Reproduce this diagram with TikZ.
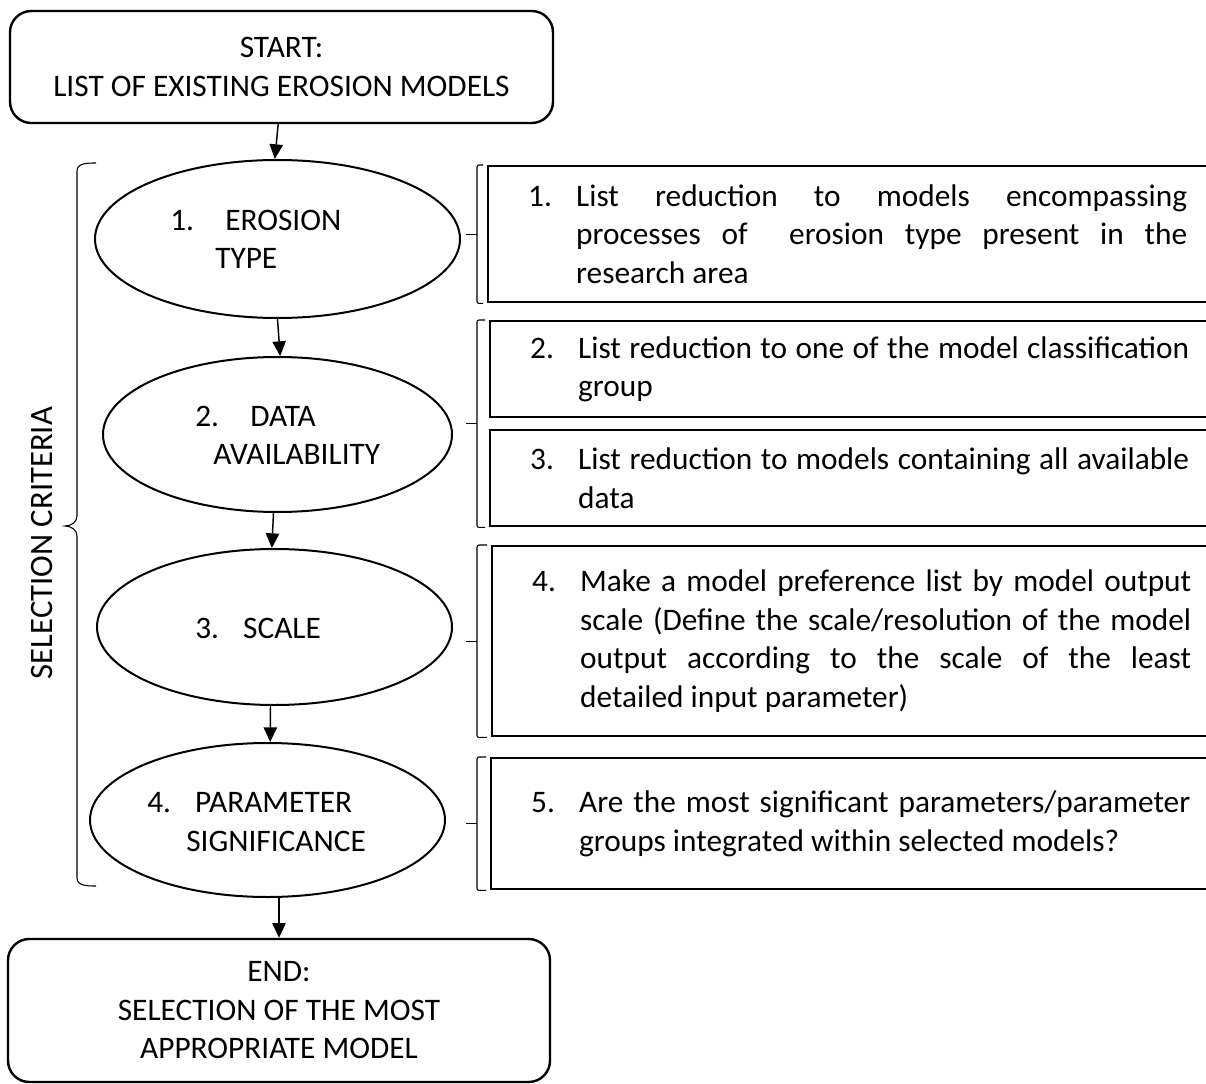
\documentclass[tikz,border=0pt]{standalone}
\usepackage{fontspec}
\setmainfont{Carlito}
\usetikzlibrary{shapes.geometric,arrows.meta,calc}
\newcommand{\hangitem}[2]{\tolerance=10000\noindent\hangindent=36pt\hangafter=1\makebox[36pt][l]{#1}#2\par}
\begin{document}
\begin{tikzpicture}[x=0.75pt,y=-0.75pt,
  every node/.style={font=\fontsize{23.5pt}{28.9pt}\selectfont},
  term/.style={draw, rounded corners=16pt, line width=1.8pt, inner sep=0pt, align=center},
  oval/.style={draw, ellipse, line width=1.5pt, inner sep=0pt},
  crit/.style={anchor=west, align=left, inner sep=0pt},
  stepbox/.style={draw, line width=1.8pt, anchor=north west, inner ysep=0pt, inner xsep=30pt,
    text width=494.25pt, align=justify},
  brk/.style={line width=0.8pt, rounded corners=1.5pt},
  arr/.style={-{Triangle[length=11pt,width=10pt]}, line width=1.1pt}]
\useasboundingbox (0,0) rectangle (1206,1084);
\clip (0,0) rectangle (1206,1084);

% start / end
\node[term, minimum width=407.25pt, minimum height=84pt] (start) at (281.5,67)
  {START:\\LIST OF EXISTING EROSION MODELS};
\node[term, minimum width=406.5pt, minimum height=107.25pt] (end) at (279,1010.5)
  {END:\\SELECTION OF THE MOST\\APPROPRIATE MODEL};

% ellipses
\node[oval, minimum width=273.75pt, minimum height=118.5pt] (e1) at (277.5,239) {};
\node[oval, minimum width=261.75pt, minimum height=116.25pt] (e2) at (277.5,434.5) {};
\node[oval, minimum width=266.25pt, minimum height=117pt] (e3) at (274.5,627) {};
\node[oval, minimum width=266.25pt, minimum height=115.5pt] (e4) at (267.5,820) {};

\node[crit] (t1) at (170,239.5) {\makebox[41.25pt][l]{1.}EROSION\\\hspace*{33.75pt}TYPE};
\node[crit] (t2) at (195,435.5) {\makebox[41.25pt][l]{2.}DATA\\\hspace*{13.5pt}AVAILABILITY};
\node[crit] (t3) at (195,628) {\makebox[36pt][l]{3.}SCALE};
\node[crit] (t4) at (147,822) {\makebox[36pt][l]{4.}PARAMETER\\\hspace*{29.25pt}SIGNIFICANCE};

% arrows
\draw[arr] ([xshift=-2.5pt]start.south) -- ([xshift=-2pt]e1.north);
\draw[arr] (e1.south) -- ([xshift=2pt]e2.north);
\draw[arr] ([xshift=-3pt]e2.south) -- ([xshift=-2pt]e3.north);
\draw[arr] ([xshift=-3pt]e3.south) -- ([xshift=2pt]e4.north);
\draw[arr] (e4.south -| end.north) -- (end.north);

% left brace and label
\draw[line width=0.8pt] (96,163) to[out=180,in=90] (77,171) -- (77,516)
  to[out=-90,in=0] (65,526) to[out=0,in=90] (77,536) -- (77,878)
  to[out=-90,in=180] (96,886);
\node[rotate=90, inner sep=0pt, font=\fontsize{24.5pt}{28.9pt}\selectfont] (sel) at (42,543) {SELECTION CRITERIA};

% right boxes
\node[stepbox, minimum height=102pt] (b1) at (487,165)
  {\hangitem{1.}{List reduction to models encompassing\linebreak processes of\ \ erosion type present in the\linebreak research area}};
\node[stepbox, minimum height=72pt] (b2) at (489,320)
  {\hangitem{2.}{List reduction to one of the model classification\linebreak group}};
\node[stepbox, minimum height=72pt] (b3) at (489,429)
  {\hangitem{3.}{List reduction to models containing all available\linebreak data}};
\node[stepbox, minimum height=142.5pt] (b4) at (491,545)
  {\hangitem{4.}{Make a model preference list by model output\linebreak scale (Define the scale/resolution of the model\linebreak output according to the scale of the least\linebreak detailed input parameter)}};
\node[stepbox, minimum height=98.25pt] (b5) at (490,757)
  {\hangitem{5.}{Are the most significant parameters/parameter\linebreak groups integrated within selected models?}};

% brackets
\draw[brk] ([xshift=-3pt]b1.north west) -- ([xshift=-7.5pt]b1.north west) -- ([xshift=-7.5pt]b1.south west) -- ([xshift=-3pt]b1.south west);
\draw[line width=0.8pt] ([xshift=-7.5pt]b1.west) -- ++(-11,0);
\draw[brk] ([xshift=-3pt]b2.north west) -- ([xshift=-9pt]b2.north west) -- ([xshift=-9pt]b3.south west) -- ([xshift=-3pt]b3.south west);
\draw[line width=0.8pt] ($([xshift=-9pt]b2.north west)!0.5!([xshift=-9pt]b3.south west)$) -- ++(-11,0);
\draw[brk] ([xshift=-3pt]b4.north west) -- ([xshift=-10.5pt]b4.north west) -- ([xshift=-10.5pt]b4.south west) -- ([xshift=-3pt]b4.south west);
\draw[line width=0.8pt] ([xshift=-10.5pt]b4.west) -- ++(-11,0);
\draw[brk] ([xshift=-3pt]b5.north west) -- ([xshift=-9.75pt]b5.north west) -- ([xshift=-9.75pt]b5.south west) -- ([xshift=-3pt]b5.south west);
\draw[line width=0.8pt] ([xshift=-9.75pt]b5.west) -- ++(-11,0);
\end{tikzpicture}
\end{document}
